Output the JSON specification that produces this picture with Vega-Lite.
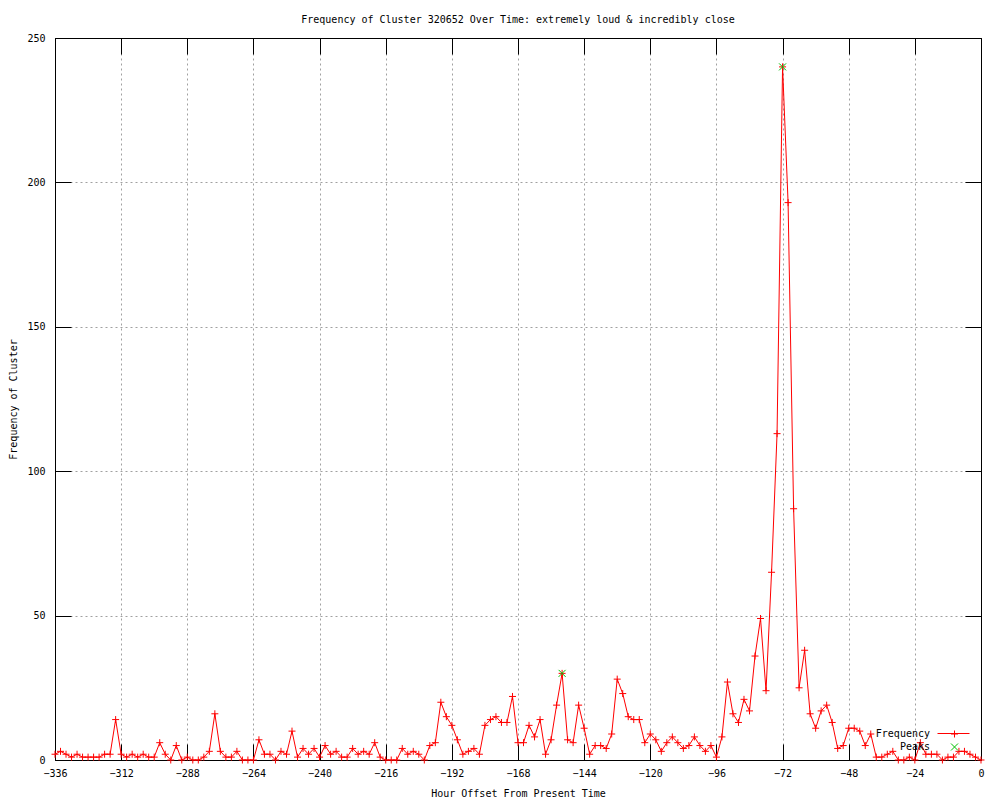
{
  "$schema": "https://vega.github.io/schema/vega-lite/v6.json",
  "width": 926,
  "height": 722,
  "autosize": {"type": "none"},
  "padding": {"left": 55, "top": 38, "right": 19, "bottom": 40},
  "background": "white",
  "title": {"text": "Frequency of Cluster 320652 Over Time: extremely loud & incredibly close", "font": "DejaVu Sans Mono", "fontSize": 10, "fontWeight": "normal", "color": "black", "offset": 8},
  "config": {
    "view": {"stroke": "black", "strokeWidth": 1},
    "axis": {"domainColor": "black", "tickColor": "black", "labelColor": "black", "titleColor": "black", "labelFont": "DejaVu Sans Mono", "titleFont": "DejaVu Sans Mono", "labelFontSize": 10, "titleFontSize": 10, "titleFontWeight": "normal", "labelOverlap": false, "labelFlush": false}
  },
  "data": {"values": [
    {"hour": -336, "count": 2, "series": "Frequency"}, {"hour": -334, "count": 3, "series": "Frequency"}, {"hour": -332, "count": 2, "series": "Frequency"}, {"hour": -330, "count": 1, "series": "Frequency"}, {"hour": -328, "count": 2, "series": "Frequency"}, {"hour": -326, "count": 1, "series": "Frequency"}, {"hour": -324, "count": 1, "series": "Frequency"}, {"hour": -322, "count": 1, "series": "Frequency"}, {"hour": -320, "count": 1, "series": "Frequency"}, {"hour": -318, "count": 2, "series": "Frequency"}, {"hour": -316, "count": 2, "series": "Frequency"}, {"hour": -314, "count": 14, "series": "Frequency"}, {"hour": -312, "count": 2, "series": "Frequency"}, {"hour": -310, "count": 1, "series": "Frequency"}, {"hour": -308, "count": 2, "series": "Frequency"}, {"hour": -306, "count": 1, "series": "Frequency"}, {"hour": -304, "count": 2, "series": "Frequency"}, {"hour": -302, "count": 1, "series": "Frequency"}, {"hour": -300, "count": 1, "series": "Frequency"}, {"hour": -298, "count": 6, "series": "Frequency"}, {"hour": -296, "count": 2, "series": "Frequency"}, {"hour": -294, "count": 0, "series": "Frequency"}, {"hour": -292, "count": 5, "series": "Frequency"}, {"hour": -290, "count": 0, "series": "Frequency"}, {"hour": -288, "count": 1, "series": "Frequency"}, {"hour": -286, "count": 0, "series": "Frequency"}, {"hour": -284, "count": 0, "series": "Frequency"}, {"hour": -282, "count": 1, "series": "Frequency"}, {"hour": -280, "count": 3, "series": "Frequency"}, {"hour": -278, "count": 16, "series": "Frequency"},
    {"hour": -276, "count": 3, "series": "Frequency"}, {"hour": -274, "count": 1, "series": "Frequency"}, {"hour": -272, "count": 1, "series": "Frequency"}, {"hour": -270, "count": 3, "series": "Frequency"}, {"hour": -268, "count": 0, "series": "Frequency"}, {"hour": -266, "count": 0, "series": "Frequency"}, {"hour": -264, "count": 0, "series": "Frequency"}, {"hour": -262, "count": 7, "series": "Frequency"}, {"hour": -260, "count": 2, "series": "Frequency"}, {"hour": -258, "count": 2, "series": "Frequency"}, {"hour": -256, "count": 0, "series": "Frequency"}, {"hour": -254, "count": 3, "series": "Frequency"}, {"hour": -252, "count": 2, "series": "Frequency"}, {"hour": -250, "count": 10, "series": "Frequency"}, {"hour": -248, "count": 1, "series": "Frequency"}, {"hour": -246, "count": 4, "series": "Frequency"}, {"hour": -244, "count": 2, "series": "Frequency"}, {"hour": -242, "count": 4, "series": "Frequency"}, {"hour": -240, "count": 1, "series": "Frequency"}, {"hour": -238, "count": 5, "series": "Frequency"}, {"hour": -236, "count": 2, "series": "Frequency"}, {"hour": -234, "count": 3, "series": "Frequency"}, {"hour": -232, "count": 1, "series": "Frequency"}, {"hour": -230, "count": 1, "series": "Frequency"}, {"hour": -228, "count": 4, "series": "Frequency"}, {"hour": -226, "count": 2, "series": "Frequency"}, {"hour": -224, "count": 3, "series": "Frequency"}, {"hour": -222, "count": 2, "series": "Frequency"}, {"hour": -220, "count": 6, "series": "Frequency"},
    {"hour": -218, "count": 1, "series": "Frequency"}, {"hour": -216, "count": 0, "series": "Frequency"}, {"hour": -214, "count": 0, "series": "Frequency"}, {"hour": -212, "count": 0, "series": "Frequency"}, {"hour": -210, "count": 4, "series": "Frequency"}, {"hour": -208, "count": 2, "series": "Frequency"}, {"hour": -206, "count": 3, "series": "Frequency"}, {"hour": -204, "count": 2, "series": "Frequency"}, {"hour": -202, "count": 0, "series": "Frequency"}, {"hour": -200, "count": 5, "series": "Frequency"}, {"hour": -198, "count": 6, "series": "Frequency"}, {"hour": -196, "count": 20, "series": "Frequency"}, {"hour": -194, "count": 15, "series": "Frequency"}, {"hour": -192, "count": 12, "series": "Frequency"}, {"hour": -190, "count": 7, "series": "Frequency"}, {"hour": -188, "count": 2, "series": "Frequency"}, {"hour": -186, "count": 3, "series": "Frequency"}, {"hour": -184, "count": 4, "series": "Frequency"}, {"hour": -182, "count": 2, "series": "Frequency"}, {"hour": -180, "count": 12, "series": "Frequency"}, {"hour": -178, "count": 14, "series": "Frequency"}, {"hour": -176, "count": 15, "series": "Frequency"}, {"hour": -174, "count": 13, "series": "Frequency"}, {"hour": -172, "count": 13, "series": "Frequency"}, {"hour": -170, "count": 22, "series": "Frequency"}, {"hour": -168, "count": 6, "series": "Frequency"}, {"hour": -166, "count": 6, "series": "Frequency"}, {"hour": -164, "count": 12, "series": "Frequency"}, {"hour": -162, "count": 8, "series": "Frequency"},
    {"hour": -160, "count": 14, "series": "Frequency"}, {"hour": -158, "count": 2, "series": "Frequency"}, {"hour": -156, "count": 7, "series": "Frequency"}, {"hour": -154, "count": 19, "series": "Frequency"}, {"hour": -152, "count": 30, "series": "Frequency"}, {"hour": -150, "count": 7, "series": "Frequency"}, {"hour": -148, "count": 6, "series": "Frequency"}, {"hour": -146, "count": 19, "series": "Frequency"}, {"hour": -144, "count": 11, "series": "Frequency"}, {"hour": -142, "count": 2, "series": "Frequency"}, {"hour": -140, "count": 5, "series": "Frequency"}, {"hour": -138, "count": 5, "series": "Frequency"}, {"hour": -136, "count": 4, "series": "Frequency"}, {"hour": -134, "count": 9, "series": "Frequency"}, {"hour": -132, "count": 28, "series": "Frequency"}, {"hour": -130, "count": 23, "series": "Frequency"}, {"hour": -128, "count": 15, "series": "Frequency"}, {"hour": -126, "count": 14, "series": "Frequency"}, {"hour": -124, "count": 14, "series": "Frequency"}, {"hour": -122, "count": 6, "series": "Frequency"}, {"hour": -120, "count": 9, "series": "Frequency"}, {"hour": -118, "count": 7, "series": "Frequency"}, {"hour": -116, "count": 3, "series": "Frequency"}, {"hour": -114, "count": 6, "series": "Frequency"}, {"hour": -112, "count": 8, "series": "Frequency"}, {"hour": -110, "count": 6, "series": "Frequency"}, {"hour": -108, "count": 4, "series": "Frequency"}, {"hour": -106, "count": 5, "series": "Frequency"}, {"hour": -104, "count": 8, "series": "Frequency"},
    {"hour": -102, "count": 5, "series": "Frequency"}, {"hour": -100, "count": 3, "series": "Frequency"}, {"hour": -98, "count": 5, "series": "Frequency"}, {"hour": -96, "count": 1, "series": "Frequency"}, {"hour": -94, "count": 8, "series": "Frequency"}, {"hour": -92, "count": 27, "series": "Frequency"}, {"hour": -90, "count": 16, "series": "Frequency"}, {"hour": -88, "count": 13, "series": "Frequency"}, {"hour": -86, "count": 21, "series": "Frequency"}, {"hour": -84, "count": 17, "series": "Frequency"}, {"hour": -82, "count": 36, "series": "Frequency"}, {"hour": -80, "count": 49, "series": "Frequency"}, {"hour": -78, "count": 24, "series": "Frequency"}, {"hour": -76, "count": 65, "series": "Frequency"}, {"hour": -74, "count": 113, "series": "Frequency"}, {"hour": -72, "count": 240, "series": "Frequency"}, {"hour": -70, "count": 193, "series": "Frequency"}, {"hour": -68, "count": 87, "series": "Frequency"}, {"hour": -66, "count": 25, "series": "Frequency"},
    {"hour": -64, "count": 38, "series": "Frequency"}, {"hour": -62, "count": 16, "series": "Frequency"}, {"hour": -60, "count": 11, "series": "Frequency"}, {"hour": -58, "count": 17, "series": "Frequency"}, {"hour": -56, "count": 19, "series": "Frequency"}, {"hour": -54, "count": 13, "series": "Frequency"}, {"hour": -52, "count": 4, "series": "Frequency"}, {"hour": -50, "count": 5, "series": "Frequency"}, {"hour": -48, "count": 11, "series": "Frequency"}, {"hour": -46, "count": 11, "series": "Frequency"}, {"hour": -44, "count": 10, "series": "Frequency"}, {"hour": -42, "count": 5, "series": "Frequency"}, {"hour": -40, "count": 9, "series": "Frequency"}, {"hour": -38, "count": 1, "series": "Frequency"}, {"hour": -36, "count": 1, "series": "Frequency"}, {"hour": -34, "count": 2, "series": "Frequency"}, {"hour": -32, "count": 3, "series": "Frequency"}, {"hour": -30, "count": 0, "series": "Frequency"}, {"hour": -28, "count": 0, "series": "Frequency"}, {"hour": -26, "count": 1, "series": "Frequency"}, {"hour": -24, "count": 0, "series": "Frequency"}, {"hour": -22, "count": 6, "series": "Frequency"}, {"hour": -20, "count": 2, "series": "Frequency"}, {"hour": -18, "count": 2, "series": "Frequency"}, {"hour": -16, "count": 2, "series": "Frequency"}, {"hour": -14, "count": 0, "series": "Frequency"}, {"hour": -12, "count": 1, "series": "Frequency"}, {"hour": -10, "count": 1, "series": "Frequency"}, {"hour": -8, "count": 3, "series": "Frequency"}, {"hour": -6, "count": 3, "series": "Frequency"}, {"hour": -4, "count": 2, "series": "Frequency"}, {"hour": -2, "count": 1, "series": "Frequency"}, {"hour": 0, "count": 0, "series": "Frequency"},
    {"hour": -152, "count": 30, "series": "Peaks"}, {"hour": -72, "count": 240, "series": "Peaks"}
  ]},
  "layer": [
    {
      "transform": [{"filter": "datum.series === 'Frequency'"}],
      "mark": {"type": "line", "color": "#ff0000", "strokeWidth": 1},
      "encoding": {
        "x": {"field": "hour", "type": "quantitative", "scale": {"domain": [-336, 0], "nice": false, "zero": false},
          "axis": {"orient": "bottom", "values": [-336, -312, -288, -264, -240, -216, -192, -168, -144, -120, -96, -72, -48, -24, 0], "format": "d", "grid": true, "gridColor": "#a0a0a0", "gridDash": [2, 3], "gridWidth": 1, "tickSize": -16, "labelPadding": 24, "title": "Hour Offset From Present Time", "titleY": 33, "titleBaseline": "middle"}},
        "y": {"field": "count", "type": "quantitative", "scale": {"domain": [0, 250], "nice": false, "zero": true},
          "axis": {"orient": "left", "values": [0, 50, 100, 150, 200, 250], "grid": true, "gridColor": "#a0a0a0", "gridDash": [2, 3], "gridWidth": 1, "tickSize": -16, "labelPadding": 26, "labelBaseline": "middle", "title": "Frequency of Cluster", "titleX": -42, "titleY": 361, "titleBaseline": "middle", "titleAngle": 270}},
        "opacity": {"field": "series", "type": "nominal", "scale": {"domain": ["Frequency"], "range": [1]},
          "legend": {"orient": "none", "legendX": 882, "legendY": 679, "title": null, "padding": 0, "symbolType": "stroke", "symbolSize": 1024, "symbolStrokeColor": "#ff0000", "symbolStrokeWidth": 1, "symbolOpacity": 1, "labelExpr": "''"}}
      }
    },
    {
      "mark": {"type": "point", "filled": false, "strokeWidth": 1, "size": 49, "opacity": 1},
      "encoding": {
        "x": {"field": "hour", "type": "quantitative", "scale": {"domain": [-336, 0], "nice": false, "zero": false},
          "axis": {"orient": "top", "values": [-336, -312, -288, -264, -240, -216, -192, -168, -144, -120, -96, -72, -48, -24, 0], "labels": false, "grid": false, "tickSize": -16, "title": null}},
        "y": {"field": "count", "type": "quantitative", "scale": {"domain": [0, 250], "nice": false, "zero": true},
          "axis": {"orient": "right", "values": [0, 50, 100, 150, 200, 250], "labels": false, "grid": false, "tickSize": -16, "title": null}},
        "color": {"field": "series", "type": "nominal", "scale": {"domain": ["Frequency", "Peaks"], "range": ["#ff0000", "#00c000"]},
          "legend": {"orient": "none", "legendX": 894.5, "legendY": 691, "title": null, "padding": 0, "rowPadding": 1, "labelFont": "DejaVu Sans Mono", "labelFontSize": 10, "labelColor": "black", "labelAlign": "right", "labelOffset": -29.5, "symbolSize": 49, "symbolStrokeWidth": 1}},
        "shape": {"field": "series", "type": "nominal", "scale": {"domain": ["Frequency", "Peaks"], "range": ["M-1,0L1,0M0,-1L0,1", "M-1,-1L1,1M-1,1L1,-1"]}, "legend": null}
      }
    }
  ],
  "resolve": {"axis": {"x": "independent", "y": "independent"}}
}
